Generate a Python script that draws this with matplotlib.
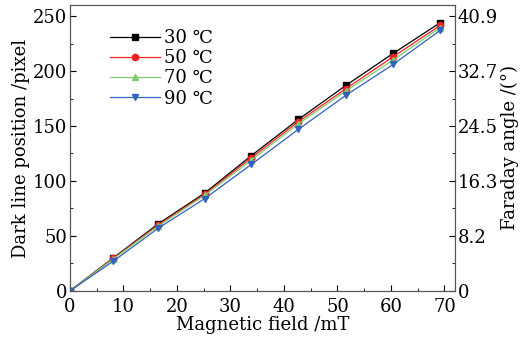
import matplotlib
matplotlib.use("Agg")
import matplotlib.pyplot as plt
from matplotlib.ticker import MultipleLocator

plt.rcParams['font.family'] = ['DejaVu Serif', 'DejaVu Sans']
plt.rcParams['mathtext.fontset'] = 'dejavuserif'

field = [0, 8.1, 16.5, 25.2, 33.9, 42.7, 51.6, 60.4, 69.2]
t30 = [0, 30, 61, 89, 123, 156, 187, 216, 244]
t50 = [0, 29.5, 60, 88, 121, 154, 184, 213, 241.5]
t70 = [0, 29, 59, 87, 119, 152, 182, 210, 239.5]
t90 = [0, 27, 57, 84, 115, 147, 178, 206, 237]
labels = ["30 ℃", "50 ℃", "70 ℃", "90 ℃"]
left_ticks = [0, 50, 100, 150, 200, 250]
right_labels = ["0", "8.2", "16.3", "24.5", "32.7", "40.9"]

fig = plt.figure(figsize=(5.22, 3.39), dpi=100)
ax = fig.add_axes([0.134, 0.142, 0.738, 0.843])

styles = [("black", "s"), ("#f02020", "o"), ("#80cc70", "^"), ("#3060c0", "v")]
for ys, lab, (c, m) in zip([t30, t50, t70, t90], labels, styles):
    ax.plot(field, ys, color=c, marker=m, markersize=4.5, linewidth=0.9, label=lab)

ax.set_xlim(0, 72)
ax.set_ylim(0, 260)
ax.set_xticks(range(0, 71, 10))
ax.set_yticks(left_ticks)
ax.xaxis.set_minor_locator(MultipleLocator(5))
ax.yaxis.set_minor_locator(MultipleLocator(25))
ax.tick_params(which="both", direction="in", labelsize=13, pad=2)
ax.tick_params(axis="x", which="both", pad=5)
ax.tick_params(which="major", length=4)
ax.tick_params(which="minor", length=2.5)
ax.set_xlabel("Magnetic field /mT", fontsize=13, labelpad=0)
ax.set_ylabel("Dark line position /pixel", fontsize=13, labelpad=2)

ax2 = ax.twinx()
ax2.set_ylim(0, 260)
ax2.set_yticks(left_ticks, labels=right_labels)
ax2.yaxis.set_minor_locator(MultipleLocator(25))
ax2.tick_params(which="both", direction="in", labelsize=13, pad=2)
ax2.tick_params(which="major", length=4)
ax2.tick_params(which="minor", length=2.5)
ax2.set_ylabel("Faraday angle /(°)", fontsize=13, labelpad=2)

for a in (ax, ax2):
    for s in a.spines.values():
        s.set_color("#555555")

ax.legend(loc="upper left", bbox_to_anchor=(0.07, 0.96), frameon=False,
          fontsize=13, handlelength=2.8, labelspacing=0.12, handletextpad=0.2,
          borderpad=0.2)

fig.savefig("out.png", dpi=100)
